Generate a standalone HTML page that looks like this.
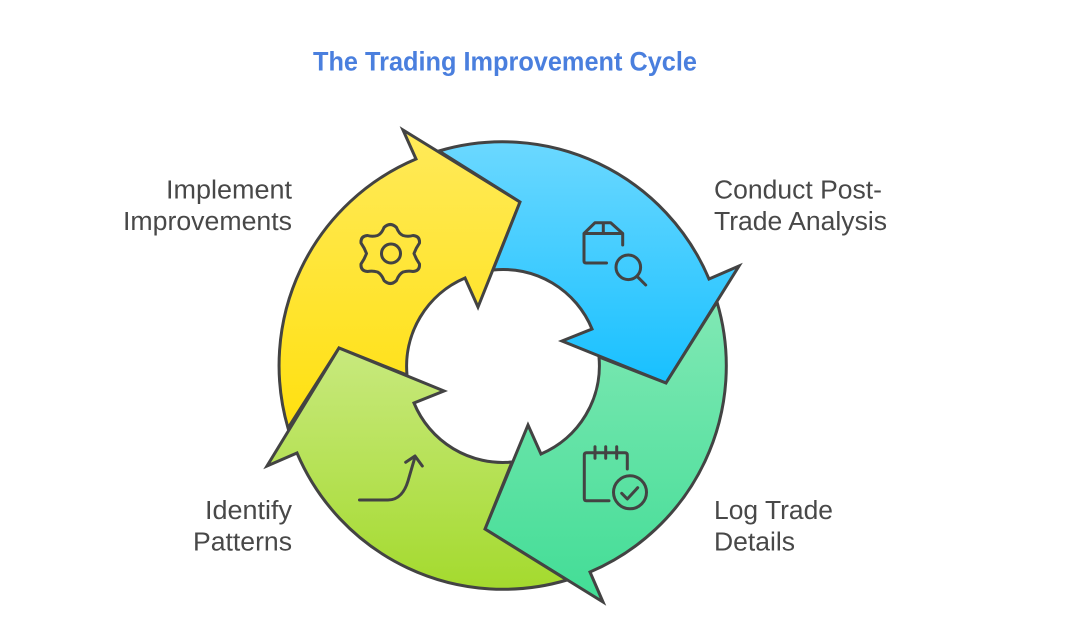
<!DOCTYPE html>
<html>
<head>
<meta charset="utf-8">
<style>
html,body{margin:0;padding:0;background:#fff;width:1069px;height:620px;overflow:hidden}
svg{display:block}
text{font-family:"Liberation Sans",sans-serif}
.l{font-size:25.5px;fill:#484848}
.s{stroke:#434343;stroke-width:3;stroke-linejoin:miter;stroke-miterlimit:10}
.i{fill:none;stroke:#434343;stroke-width:3;stroke-linecap:round;stroke-linejoin:round}
</style>
</head>
<body>
<svg width="1069" height="620" viewBox="0 0 1069 620" xmlns="http://www.w3.org/2000/svg">
<defs>
<linearGradient id="gy" x1="0" y1="0" x2="0" y2="1"><stop offset="0" stop-color="#FFEA5A"/><stop offset="1" stop-color="#FFE010"/></linearGradient>
<linearGradient id="gb" x1="0" y1="0" x2="0" y2="1"><stop offset="0" stop-color="#6BD8FF"/><stop offset="1" stop-color="#18C0FF"/></linearGradient>
<linearGradient id="gt" x1="0" y1="0" x2="0" y2="1"><stop offset="0" stop-color="#80E8B4"/><stop offset="1" stop-color="#42DD96"/></linearGradient>
<linearGradient id="gl" x1="0" y1="0" x2="0" y2="1"><stop offset="0" stop-color="#C8E97E"/><stop offset="1" stop-color="#A4DA2E"/></linearGradient>
</defs>

<text x="313" y="70.5" font-size="26.5" font-weight="700" fill="#4A7FDE" textLength="384" lengthAdjust="spacingAndGlyphs">The Trading Improvement Cycle</text>

<path class="s" fill="url(#gy)" d="M403,130 L416,159 A224,224 0 0 0 288,428 L339,348 L407,375 A96,96 0 0 1 465,278 L478,307 L520,202 Z"/>
<path class="s" fill="url(#gb)" d="M739,266 L709,279 A224,224 0 0 0 439,151 L520,202 L493,270 A96,96 0 0 1 592,329 L562,341 L666,383 Z"/>
<path class="s" fill="url(#gt)" d="M528,425 L541,454 A96,96 0 0 0 599,357 L666,383 L717,302 A224,224 0 0 1 590,572 L603,602 L485,529 Z"/>
<path class="s" fill="url(#gl)" d="M339,348 L444,391 L414,403 A96,96 0 0 0 512,462 L485,529 L567,580 A224,224 0 0 1 297,453 L267,466 Z"/>

<!-- gear -->
<path class="i" d="M384,227.5 Q390.3,221.5 396.5,227.5 Q399,234 403,235.5 Q408,237 413,235.5 Q420,236 419.5,243 Q416,248 414,253.5 Q416,259 419.5,264 Q420,271 413,271.5 Q408,270.5 403,272 Q399,274 396.5,280.5 Q390.3,286.5 384,280.5 Q381.5,274 377.5,272 Q372.5,270.5 367.5,271.5 Q360.5,271 361,264 Q364.5,259 366.5,253.5 Q364.5,248 361,243 Q360.5,236 367.5,235.5 Q372.5,237 377.5,235.5 Q381.5,234 384,227.5 Z"/>
<circle class="i" cx="391" cy="253.5" r="9.5"/>

<!-- box search -->
<path class="i" d="M606.5,263 H586 Q584,263 584,261 V233.5 L595,222.7 H610.7 L622.7,233.5 V245 M584,233.5 H622.7 M603.3,222.7 V233.5"/>
<circle class="i" cx="628.3" cy="267.3" r="12.3"/>
<path class="i" d="M638,277.3 L645.7,285"/>

<!-- calendar -->
<path class="i" d="M609,500.7 H586.5 Q584.3,500.7 584.3,498.5 V455 Q584.3,452.7 586.5,452.7 H625 Q627.3,452.7 627.3,455 V469 M595,446.7 V458.3 M605.7,446.7 V458.3 M616.7,446.7 V458.3"/>
<circle class="i" cx="630" cy="492.3" r="16.5"/>
<path class="i" d="M621.7,493.3 L627.3,499 L637.7,487.7"/>

<!-- arrow -->
<path class="i" d="M359.5,500 H388 C399,500 405,491 408,481 L415,457 M405.7,462.3 L415,456 L422.3,466"/>

<text class="l" x="166" y="198.5" textLength="126" lengthAdjust="spacingAndGlyphs">Implement</text>
<text class="l" x="123" y="230" textLength="169" lengthAdjust="spacingAndGlyphs">Improvements</text>
<text class="l" x="714" y="198.5" textLength="168" lengthAdjust="spacingAndGlyphs">Conduct Post-</text>
<text class="l" x="714" y="230" textLength="173" lengthAdjust="spacingAndGlyphs">Trade Analysis</text>
<text class="l" x="714" y="519" textLength="119" lengthAdjust="spacingAndGlyphs">Log Trade</text>
<text class="l" x="714" y="550.5" textLength="81" lengthAdjust="spacingAndGlyphs">Details</text>
<text class="l" x="205" y="519" textLength="87" lengthAdjust="spacingAndGlyphs">Identify</text>
<text class="l" x="193" y="550.5" textLength="99" lengthAdjust="spacingAndGlyphs">Patterns</text>
</svg>
</body>
</html>
